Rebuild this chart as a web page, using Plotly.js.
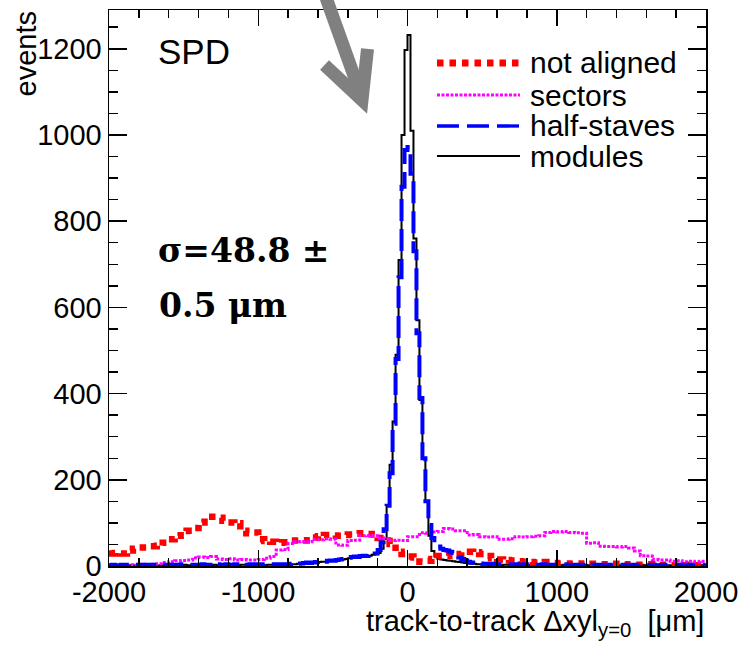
<!DOCTYPE html>
<html><head><meta charset="utf-8">
<script src="https://cdn.plot.ly/plotly-3.0.1.min.js"></script>
<style>html,body{margin:0;padding:0;background:#fff}#chart{width:740px;height:648px}</style>
</head><body><div id="chart"></div>
<script>
// ---- data (histogram counts) ----
const histStart = -2000;      // µm, left edge of first bin
const coarseBinWidth = 40;    // µm, bins of the "not aligned" / "sectors" series
const fineBinWidth = 20;      // µm, bins of the "half-staves" / "modules" series

const notAligned = [
 29,30,29,36,40,43,43,46,47,54,
 62,70,81,82,88,101,114,114,112,105,
 101,99,82,76,78,62,58,56,54,55,
 59,59,60,59,66,69,72,71,70,72,
 73,75,76,74,73,65,58,51,33,28,
 22,20,10,12,16,23,24,30,28,33,
 33,32,28,23,18,15,14,13,11,10,
 9,8,8,9,7,6,6,5,6,5,
 4,5,4,3,5,4,3,4,3,3,
 4,3,2,3,2,3,2,3,2,2];

const sectors = [
 3,2,3,3,2,4,3,4,5,8,
 10,12,13,14,19,21,20,22,16,15,
 17,14,15,14,14,15,18,22,37,38,
 52,56,57,56,62,61,63,62,49,48,
 59,60,70,71,70,65,64,59,60,59,
 68,68,77,76,79,80,87,86,82,82,
 72,73,68,67,68,62,62,63,68,67,
 68,69,70,78,80,79,80,78,77,76,
 53,54,46,45,45,44,45,42,35,24,
 23,15,14,14,11,12,10,11,10,11];

const halfStaves = [
 2,3,2,2,3,2,3,2,2,3,
 2,3,3,2,3,3,2,3,3,2,
 3,3,2,3,4,3,3,2,3,3,
 3,4,3,3,2,3,4,3,3,4,
 3,3,4,3,4,3,3,4,3,4,
 4,3,4,3,4,4,3,4,3,4,
 4,5,4,5,6,7,8,7,8,9,
 10,11,10,12,13,12,14,15,16,18,
 19,21,22,21,23,24,23,25,27,29,
 37,55,85,140,215,330,480,670,880,965,
 972,910,730,540,390,250,150,95,65,52,
 45,40,37,36,33,30,25,20,16,13,
 10,8,7,6,6,5,5,4,5,4,
 4,4,3,4,4,3,4,3,3,4,
 3,4,3,3,3,4,3,3,3,3,
 3,3,4,3,3,3,2,3,3,3,
 3,2,3,3,3,2,3,3,2,3,
 3,3,2,3,2,3,3,2,3,2,
 2,3,3,2,2,3,2,3,2,2,
 2,3,2,2,3,2,2,2,3,2];

const modules = [
 1,2,2,1,2,2,1,2,2,1,
 2,2,1,2,2,2,1,2,2,2,
 2,2,2,1,2,3,2,2,2,2,
 2,3,2,2,2,3,2,3,2,2,
 3,2,3,2,3,3,2,3,2,3,
 3,3,2,3,3,4,3,3,3,3,
 3,4,4,5,5,6,6,7,7,8,
 9,10,10,11,12,12,13,14,15,16,
 18,19,20,21,22,22,23,24,26,27,
 30,40,62,140,235,335,490,710,1000,1197,
 1232,1010,760,570,385,250,150,70,35,22,
 17,15,14,13,12,11,10,9,8,7,
 6,5,5,4,4,3,3,3,3,3,
 3,2,3,3,2,3,2,3,2,3,
 2,3,2,2,3,2,3,2,2,3,
 2,2,3,2,2,3,2,2,2,3,
 2,2,2,3,2,2,2,2,3,2,
 2,2,3,2,2,2,2,2,3,2,
 2,2,2,2,3,2,2,2,2,2,
 2,2,2,1,2,2,2,2,2,1];

const seriesNames = ["not aligned", "sectors", "half-staves", "modules"];
const xTickVals = [-2000, -1000, 0, 1000, 2000];
const xTickText = ["-2000", "-1000", "0", "1000", "2000"];
const yTickVals = [0, 200, 400, 600, 800, 1000, 1200];
const yTickText = ["0", "200", "400", "600", "800", "1000", "1200"];

// ---- build step outlines (bin edges) ----
function stepXY(counts, start, width) {
  const x = [], y = [];
  counts.forEach((c, i) => { x.push(start + i * width); y.push(c); });
  x.push(start + counts.length * width); y.push(counts[counts.length - 1]);
  return {x, y};
}
const sNA = stepXY(notAligned, histStart, coarseBinWidth);
const sSE = stepXY(sectors, histStart, coarseBinWidth);
const sHS = stepXY(halfStaves, histStart, fineBinWidth);
const sMO = stepXY(modules, histStart, fineBinWidth);

const styles = {
  "not aligned": {color: "#ff0000", width: 6.5, dash: "6.5px,6px"},
  "sectors":     {color: "#ff00ff", width: 3, dash: "3px,1.5px"},
  "half-staves": {color: "#0000ff", width: 4, dash: "22px,8px"},
  "modules":     {color: "#000000", width: 2, dash: "solid"}
};

const traces = [
  {x: sMO.x, y: sMO.y, name: seriesNames[3], type: "scatter", mode: "lines", line: Object.assign({shape: "hv"}, styles["modules"])},
  {x: sNA.x, y: sNA.y, name: seriesNames[0], type: "scatter", mode: "lines", line: Object.assign({shape: "hv"}, styles["not aligned"])},
  {x: sSE.x, y: sSE.y, name: seriesNames[1], type: "scatter", mode: "lines", line: Object.assign({shape: "hv"}, styles["sectors"])},
  {x: sHS.x, y: sHS.y, name: seriesNames[2], type: "scatter", mode: "lines", line: Object.assign({shape: "hv"}, styles["half-staves"])}
];

// ---- legend drawn as ROOT-like long line samples ----
const legendY = [0.9047, 0.8471, 0.7914, 0.7374];
const legendLineWidth = {"not aligned": 7, "sectors": 3, "half-staves": 3.3, "modules": 2};
const shapes = [];
const annotations = [];
seriesNames.forEach((n, i) => {
  const s = styles[n];
  shapes.push({type: "line", xref: "paper", yref: "paper", x0: 0.5494, x1: 0.6884, y0: legendY[i], y1: legendY[i],
               line: {color: s.color, width: legendLineWidth[n], dash: s.dash}});
  annotations.push({xref: "paper", yref: "paper", x: 0.7020, y: legendY[i], xanchor: "left", yanchor: "middle",
                    text: n, showarrow: false, font: {family: "Liberation Sans, Arial, sans-serif", size: 30, color: "#000"}});
});

// grey arrow (shaft + open head)
const arrowColor = "#808080";
shapes.push({type: "line", xref: "paper", yref: "paper", x0: 0.3601, y0: 1.0324, x1: 0.4238, y1: 0.8417, line: {color: arrowColor, width: 13}});
shapes.push({type: "path", xref: "paper", yref: "paper", path: "M0.3610,0.9010 L0.4238,0.8381 L0.4330,0.9300", line: {color: arrowColor, width: 13}});

const serifBold = "DejaVu Serif, Liberation Serif, serif";
annotations.push(
  {xref: "paper", yref: "paper", x: 0.078, y: 0.9245, xanchor: "left", yanchor: "middle", text: "SPD", showarrow: false,
   font: {family: "Liberation Sans, Arial, sans-serif", size: 35, color: "#000"}},
  {xref: "paper", yref: "paper", x: 0.079, y: 0.5683, xanchor: "left", yanchor: "middle", text: "<b>σ=48.8 ±</b>", showarrow: false,
   font: {family: serifBold, size: 33, color: "#000"}},
  {xref: "paper", yref: "paper", x: 0.081, y: 0.4694, xanchor: "left", yanchor: "middle", text: "<b>0.5 μm</b>", showarrow: false,
   font: {family: serifBold, size: 33, color: "#000"}},
  {xref: "paper", yref: "paper", x: -0.1407, y: 1.0, xanchor: "center", yanchor: "top", textangle: -90, text: "events", showarrow: false,
   font: {family: "Liberation Sans, Arial, sans-serif", size: 29, color: "#000"}},
  {xref: "paper", yref: "paper", x: 1.0, y: -0.102, xanchor: "right", yanchor: "middle",
   text: "track-to-track Δxyl<sub>y=0</sub>\u00a0\u00a0[μm]", showarrow: false,
   font: {family: "Liberation Sans, Arial, sans-serif", size: 29, color: "#000"}}
);

const axisCommon = {
  showline: true, linecolor: "#000", linewidth: 1.5, mirror: "allticks",
  ticks: "inside", tickcolor: "#000", tickwidth: 1.5,
  showgrid: false, zeroline: false,
  tickfont: {family: "Liberation Sans, Arial, sans-serif", size: 29, color: "#000"}
};

const layout = {
  width: 740, height: 648,
  margin: {l: 109, r: 34, t: 10, b: 82, pad: 0},
  paper_bgcolor: "#fff", plot_bgcolor: "#fff",
  showlegend: false,
  xaxis: Object.assign({}, axisCommon, {
    range: [-2000, 2000], tickmode: "array", tickvals: xTickVals, ticktext: xTickText, ticklen: 16,
    minor: {dtick: 200, tick0: 0, ticklen: 8, tickwidth: 1.5, tickcolor: "#000", ticks: "inside", showgrid: false}
  }),
  yaxis: Object.assign({}, axisCommon, {
    range: [0, 1290], tickmode: "array", tickvals: yTickVals, ticktext: yTickText, ticklen: 18,
    minor: {dtick: 50, tick0: 0, ticklen: 9, tickwidth: 1.5, tickcolor: "#000", ticks: "inside", showgrid: false}
  }),
  shapes: shapes,
  annotations: annotations
};

Plotly.newPlot("chart", traces, layout, {displayModeBar: false, staticPlot: true});
</script>
</body></html>
